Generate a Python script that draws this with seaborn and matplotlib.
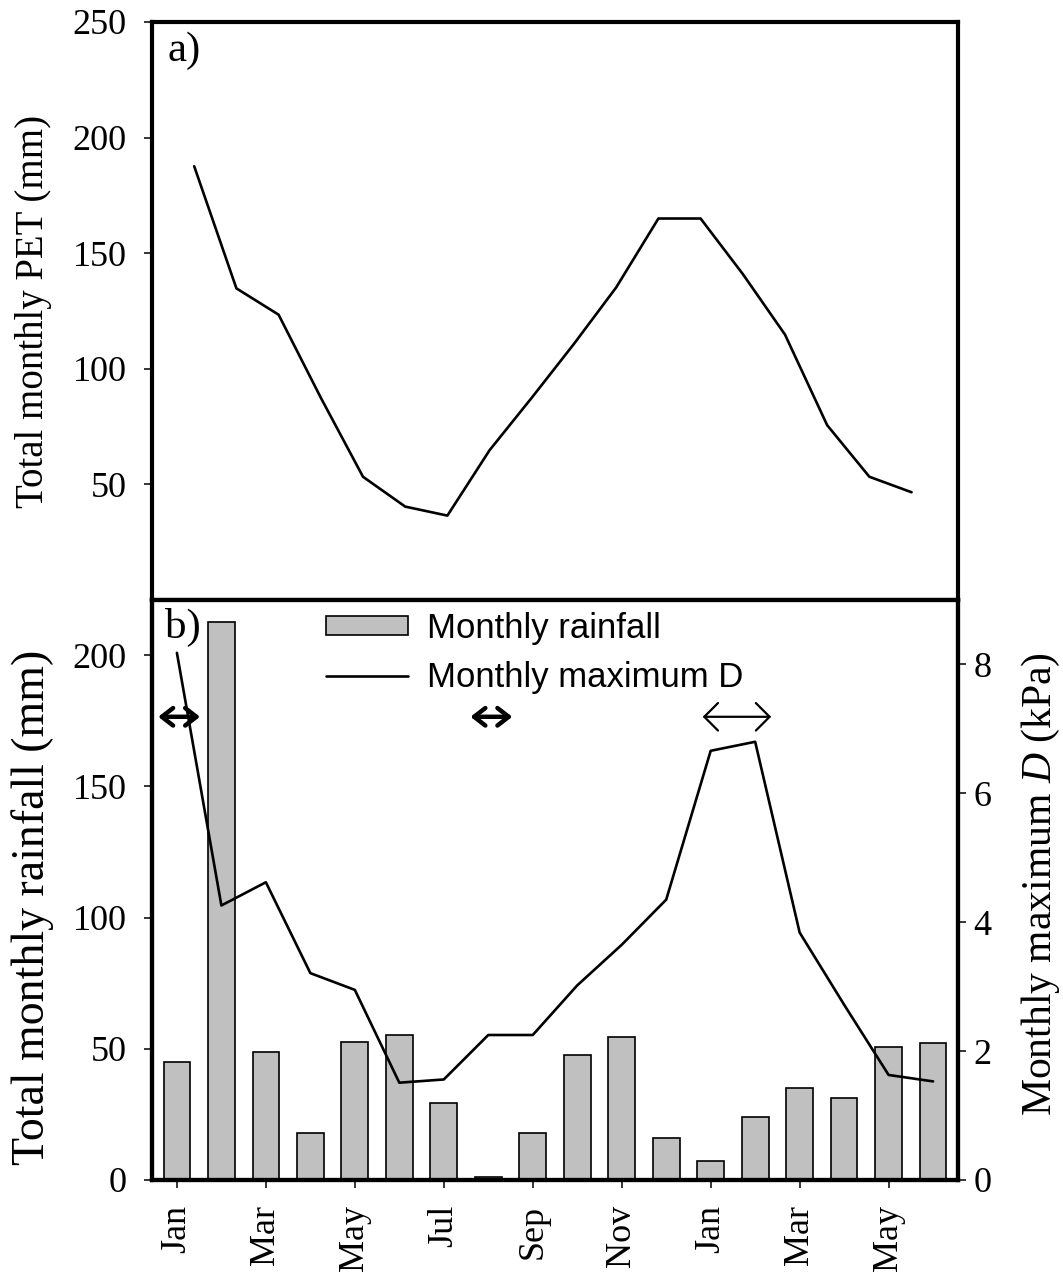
import matplotlib
matplotlib.use("Agg")
import matplotlib.pyplot as plt
import seaborn as sns

# Monthly series, January of year 1 through June of year 2
months = ["Jan", "Feb", "Mar", "Apr", "May", "Jun", "Jul", "Aug", "Sep",
          "Oct", "Nov", "Dec", "Jan", "Feb", "Mar", "Apr", "May", "Jun"]
month_idx = list(range(len(months)))

pet_mm = [187.6, 134.8, 123.4, 87.5, 53.3, 40.4, 36.5, 64.8, 87.5,
          110.8, 135.2, 165.0, 165.0, 141.0, 114.8, 75.6, 53.3, 46.6]
rainfall_mm = [44.8, 212.8, 48.9, 17.8, 52.6, 55.1, 29.4, 1.2, 17.8,
               47.7, 54.3, 16.1, 7.2, 24.1, 34.9, 31.2, 50.6, 52.1]
max_d_kpa = [8.18, 4.26, 4.62, 3.21, 2.95, 1.51, 1.56, 2.25, 2.25,
             3.02, 3.65, 4.35, 6.66, 6.80, 3.84, 2.72, 1.63, 1.53]

x_tick_pos = [0, 2, 4, 6, 8, 10, 12, 14, 16]
x_tick_labels = ["Jan", "Mar", "May", "Jul", "Sep", "Nov", "Jan", "Mar", "May"]
pet_ticks = [50, 100, 150, 200, 250]
rain_ticks = [0, 50, 100, 150, 200]
d_ticks = [0, 2, 4, 6, 8]

# Measurement periods marked with double-headed arrows (month index spans)
period_spans = [(-0.42, 0.52), (6.60, 7.54), (11.82, 13.36)]
period_bold = [True, True, False]
period_level = 176.5

sns.set_style("ticks")
plt.rcParams["font.family"] = ["Liberation Serif", "DejaVu Serif"]
plt.rcParams["mathtext.fontset"] = "custom"
plt.rcParams["mathtext.rm"] = "Liberation Serif"
plt.rcParams["mathtext.it"] = "Liberation Serif:italic"
plt.rcParams["text.color"] = "black"
plt.rcParams["axes.labelcolor"] = "black"

W, H = 1063, 1272
fig = plt.figure(figsize=(W / 100, H / 100), dpi=100)

left, right = 152, 958
top_a, mid, bottom_b = 22, 600, 1180
ax_a = fig.add_axes([left / W, 1 - mid / H, (right - left) / W, (mid - top_a) / H])
ax_b = fig.add_axes([left / W, 1 - bottom_b / H, (right - left) / W, (bottom_b - mid) / H])
ax_d = ax_b.twinx()

spine_lw = 3.0
line_lw = 1.9
tick_fs = 26

# ---- a) potential evapotranspiration
sns.lineplot(x=month_idx, y=pet_mm, ax=ax_a, color="black", lw=line_lw)
ax_a.set_xlim(-1, 18.1)
ax_a.set_ylim(0, 250)
ax_a.set_xticks([])
ax_a.set_yticks(pet_ticks)
ax_a.set_ylabel("Total monthly PET (mm)", fontsize=28)
ax_a.yaxis.set_label_coords(-0.124, 0.5)
ax_a.text(0.019, 0.983, "a)", transform=ax_a.transAxes, ha="left", va="top", fontsize=31)

# ---- b) rainfall bars and maximum vapour pressure deficit
sns.barplot(x=month_idx, y=rainfall_mm, ax=ax_b, native_scale=True, width=0.6,
            color="#c0c0c0", saturation=1, edgecolor="black", linewidth=1.2)
ax_b.set_xlim(-0.56, 17.56)
ax_b.set_ylim(0, 221)
ax_b.set_yticks(rain_ticks)
ax_b.set_xticks(x_tick_pos)
ax_b.set_xticklabels(x_tick_labels, rotation=90)
ax_b.set_ylabel("Total monthly rainfall (mm)", fontsize=33)
ax_b.yaxis.set_label_coords(-0.122, 0.47)
ax_b.text(0.016, 0.986, "b)", transform=ax_b.transAxes, ha="left", va="top", fontsize=31)

for (x0, x1), bold in zip(period_spans, period_bold):
    if bold:
        style = "<->,head_length=0.45,head_width=0.35"
        lw, ms = 3.2, 18
    else:
        style = "<->,head_length=0.55,head_width=0.55"
        lw, ms = 1.6, 18
    ax_b.annotate("", xy=(x1, period_level), xytext=(x0, period_level),
                  arrowprops=dict(arrowstyle=style, lw=lw, color="black",
                                  mutation_scale=ms, shrinkA=0, shrinkB=0))

sns.lineplot(x=month_idx, y=max_d_kpa, ax=ax_d, color="black", lw=line_lw)
ax_d.set_xlim(-0.56, 17.56)
ax_d.set_ylim(0, 9)
ax_d.set_yticks(d_ticks)
ax_d.set_ylabel("Monthly maximum $\\mathit{D}$ (kPa)", fontsize=30)
ax_d.yaxis.set_label_coords(1.077, 0.51)

handles = [ax_b.containers[0], ax_d.lines[0]]
labels = ["Monthly rainfall", "Monthly maximum D"]
ax_d.legend(handles, labels, loc="upper left",
            bbox_to_anchor=(326 / W, 1 - 612 / H), bbox_transform=fig.transFigure,
            frameon=False, borderpad=0, borderaxespad=0,
            handlelength=2.35, handleheight=0.45, handletextpad=0.55,
            labelspacing=0.45, labelcolor="black",
            prop={"family": "Liberation Sans", "size": 25})

# ---- frame and tick styling
for ax in (ax_a, ax_b, ax_d):
    for sp in ax.spines.values():
        sp.set_linewidth(spine_lw)
        sp.set_color("black")
    ax.tick_params(axis="both", direction="out", length=6, width=1.1,
                   labelsize=tick_fs, colors="black")
ax_a.tick_params(axis="y", pad=12)
ax_b.tick_params(axis="y", pad=12)
ax_b.tick_params(axis="x", pad=12)
ax_d.tick_params(axis="y", pad=5)

fig.savefig("out.png", dpi=100)
